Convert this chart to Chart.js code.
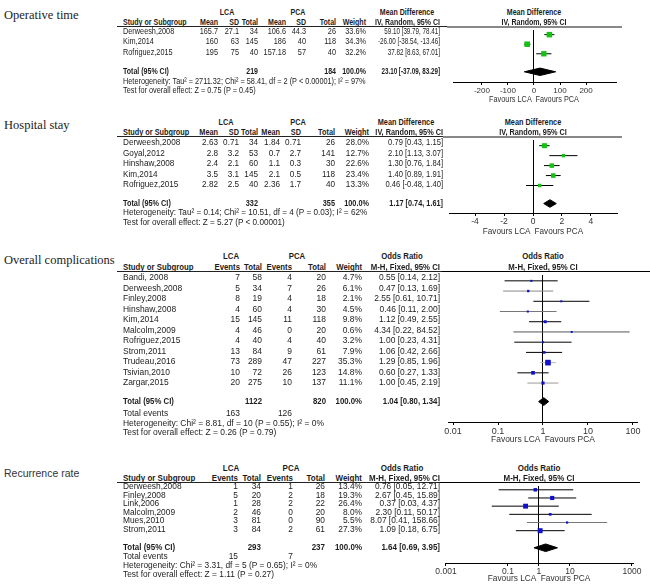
<!DOCTYPE html>
<html>
<head>
<meta charset="utf-8">
<script src="https://cdn.jsdelivr.net/npm/chart.js@4.4.1/dist/chart.umd.min.js"></script>
<style>
html, body { margin: 0; padding: 0; background: #fff; }
#page { position: relative; width: 650px; height: 587px; overflow: hidden; }
.anchor { position: absolute; width: 0; height: 0; transform-origin: 0 0; }
.txt { position: absolute; top: -6px; line-height: 12px; white-space: pre; font-family: 'Liberation Sans', Arial, sans-serif; font-size: 9.5px; color: #1c1c1c; }
.txt.l { left: 0; }
.txt.r { right: 0; }
.txt.c { left: 0; transform: translateX(-50%); }
.txt.b { font-weight: bold; }
.txt.serif { font-family: 'Liberation Serif', 'Times New Roman', serif; font-size: 12.5px; top: -8px; line-height: 16px; }
.txt.sans { font-size: 10.5px; top: -7px; line-height: 14px; color: #333; }
.txt.fav { color: #333; }
.rule { position: absolute; height: 0; }
canvas { position: absolute; }
</style>
</head>
<body>
<div id="page"></div>
<script>
// Operative time - mean difference, IV random
var opStudies = ['Derweesh,2008', 'Kim,2014', 'Rofriguez,2015'];
var opLcaMean = [165.7, 160, 195];
var opLcaSd = [27.1, 63, 75];
var opLcaN = [34, 145, 40];
var opPcaMean = [106.6, 186, 157.18];
var opPcaSd = [44.3, 40, 57];
var opPcaN = [26, 118, 40];
var opWeight = [33.6, 34.3, 32.2];
var opEst = [59.10, -26.00, 37.82];
var opLo = [39.79, -38.54, 8.63];
var opHi = [78.41, -13.46, 67.01];
var opTotalN = [219, 184];
var opTotal = [23.10, -37.09, 83.29];
var opTicks = [-200, -100, 0, 100, 200];
var opHet = 'Heterogeneity: Tau² = 2711.32; Chi² = 58.41, df = 2 (P < 0.00001); I² = 97%';
var opTest = 'Test for overall effect: Z = 0.75 (P = 0.45)';

// Hospital stay - mean difference, IV random
var hsStudies = ['Derweesh,2008', 'Goyal,2012', 'Hinshaw,2008', 'Kim,2014', 'Rofriguez,2015'];
var hsLcaMean = [2.63, 2.8, 2.4, 3.5, 2.82];
var hsLcaSd = [0.71, 3.2, 2.1, 3.1, 2.5];
var hsLcaN = [34, 53, 60, 145, 40];
var hsPcaMean = [1.84, 0.7, 1.1, 2.1, 2.36];
var hsPcaSd = [0.71, 2.7, 0.3, 0.5, 1.7];
var hsPcaN = [26, 141, 30, 118, 40];
var hsWeight = [28.0, 12.7, 22.6, 23.4, 13.3];
var hsEst = [0.79, 2.10, 1.30, 1.40, 0.46];
var hsLo = [0.43, 1.13, 0.76, 0.89, -0.48];
var hsHi = [1.15, 3.07, 1.84, 1.91, 1.40];
var hsTotalN = [332, 355];
var hsTotal = [1.17, 0.74, 1.61];
var hsTicks = [-4, -2, 0, 2, 4];
var hsHet = 'Heterogeneity: Tau² = 0.14; Chi² = 10.51, df = 4 (P = 0.03); I² = 62%';
var hsTest = 'Test for overall effect: Z = 5.27 (P < 0.00001)';

// Overall complications - odds ratio, M-H fixed
var ocStudies = ['Bandi, 2008', 'Derweesh,2008', 'Finley,2008', 'Hinshaw,2008', 'Kim,2014', 'Malcolm,2009',
    'Rofriguez,2015', 'Strom,2011', 'Trudeau,2016', 'Tsivian,2010', 'Zargar,2015'];
var ocLcaEvents = [7, 5, 8, 4, 15, 4, 4, 13, 73, 10, 20];
var ocLcaN = [58, 34, 19, 60, 145, 46, 40, 84, 289, 72, 275];
var ocPcaEvents = [4, 7, 4, 4, 11, 0, 4, 9, 47, 26, 10];
var ocPcaN = [20, 26, 18, 30, 118, 20, 40, 61, 227, 123, 137];
var ocWeight = [4.7, 6.1, 2.1, 4.5, 9.8, 0.6, 3.2, 7.9, 35.3, 14.8, 11.1];
var ocEst = [0.55, 0.47, 2.55, 0.46, 1.12, 4.34, 1.00, 1.06, 1.29, 0.60, 1.00];
var ocLo = [0.14, 0.13, 0.61, 0.11, 0.49, 0.22, 0.23, 0.42, 0.85, 0.27, 0.45];
var ocHi = [2.12, 1.69, 10.71, 2.00, 2.55, 84.52, 4.31, 2.66, 1.96, 1.33, 2.19];
var ocTotalN = [1122, 820];
var ocTotalEvents = [163, 126];
var ocTotal = [1.04, 0.80, 1.34];
var ocTicks = [0.01, 0.1, 1, 10, 100];
var ocHet = 'Heterogeneity: Chi² = 8.81, df = 10 (P = 0.55); I² = 0%';
var ocTest = 'Test for overall effect: Z = 0.26 (P = 0.79)';

// Recurrence rate - odds ratio, M-H fixed
var rrStudies = ['Derweesh,2008', 'Finley,2008', 'Link,2006', 'Malcolm,2009', 'Mues,2010', 'Strom,2011'];
var rrLcaEvents = [1, 5, 1, 2, 3, 3];
var rrLcaN = [34, 20, 28, 46, 81, 84];
var rrPcaEvents = [1, 2, 2, 0, 0, 2];
var rrPcaN = [26, 18, 22, 20, 90, 61];
var rrWeight = [13.4, 19.3, 26.4, 8.0, 5.5, 27.3];
var rrEst = [0.76, 2.67, 0.37, 2.30, 8.07, 1.09];
var rrLo = [0.05, 0.45, 0.03, 0.11, 0.41, 0.18];
var rrHi = [12.71, 15.89, 4.37, 50.17, 158.66, 6.75];
var rrTotalN = [293, 237];
var rrTotalEvents = [15, 7];
var rrTotal = [1.64, 0.69, 3.95];
var rrTicks = [0.001, 0.1, 1, 10, 1000];
var rrHet = 'Heterogeneity: Chi² = 3.31, df = 5 (P = 0.65); I² = 0%';
var rrTest = 'Test for overall effect: Z = 1.11 (P = 0.27)';

var GREEN = '#14c214';
var BLUE = '#1010cc';

var page = document.getElementById('page');

function put(text, x, y, align, o) {
    o = o || {};
    var a = document.createElement('div');
    a.className = 'anchor';
    a.style.left = x + 'px';
    a.style.top = y + 'px';
    if (o.sx && o.sx !== 1) {
        a.style.transform = 'scaleX(' + o.sx + ')';
    }
    var s = document.createElement('span');
    s.className = 'txt ' + align + (o.bold ? ' b' : '') + (o.cls ? ' ' + o.cls : '');
    s.textContent = text;
    a.appendChild(s);
    page.appendChild(a);
}

function rule(x1, x2, y, color, w) {
    var d = document.createElement('div');
    d.className = 'rule';
    d.style.left = x1 + 'px';
    d.style.width = (x2 - x1) + 'px';
    d.style.top = y + 'px';
    d.style.borderTop = w + 'px solid ' + color;
    page.appendChild(d);
}

function fmtCi(est, lo, hi) {
    return est.toFixed(2) + ' [' + lo.toFixed(2) + ', ' + hi.toFixed(2) + ']';
}

var panels = [
    {
        title: 'Operative time', titleY: 15, titleCls: 'serif',
        studies: opStudies, cols: [opLcaMean, opLcaSd, opLcaN, opPcaMean, opPcaSd, opPcaN],
        colNames: ['Mean', 'SD', 'Total', 'Mean', 'SD', 'Total'], nCols: [2, 5], evCols: null,
        weight: opWeight, est: opEst, lo: opLo, hi: opHi, totalN: opTotalN, total: opTotal,
        totalEvents: null, het: opHet, test: opTest, ticks: opTicks,
        effName: 'Mean Difference', method: 'IV, Random, 95% CI', log: false, zero: 0,
        min: -311, max: 315, markCol: GREEN, ciCol: null,
        // layout
        sx: 0.77, hsx: 0.74, ciSx: 0.66, tickSize: 8, colX: [218, 239, 258, 286, 306, 336], weightX: 366, ciX: 440,
        lcaX: 227, pcaX: 298, effX: 407,
        yHead1: 12, yHead2: 22, yLine: 26, row0: 31, step: 10.3, yTotal: 71, yEvents: null,
        yHet: 81, yTest: 90, yFav: 99, axLeft: 453, axRight: 616, axY: 82, lineEnd: 622,
        plotLine: '#888', plotLineW: 2
    },
    {
        title: 'Hospital stay', titleY: 125, titleCls: 'serif',
        studies: hsStudies, cols: [hsLcaMean, hsLcaSd, hsLcaN, hsPcaMean, hsPcaSd, hsPcaN],
        colNames: ['Mean', 'SD', 'Total', 'Mean', 'SD', 'Total'], nCols: [2, 5], evCols: null,
        weight: hsWeight, est: hsEst, lo: hsLo, hi: hsHi, totalN: hsTotalN, total: hsTotal,
        totalEvents: null, het: hsHet, test: hsTest, ticks: hsTicks,
        effName: 'Mean Difference', method: 'IV, Random, 95% CI', log: false, zero: 0,
        min: -5.8, max: 5.8, markCol: GREEN, ciCol: null,
        sx: 0.86, hsx: 0.77, ciSx: 0.8, tickSize: 8.5, colX: [218, 239, 258, 280, 301, 335], weightX: 369, ciX: 443,
        lcaX: 226, pcaX: 298, effX: 406,
        yHead1: 122, yHead2: 132, yLine: 136, row0: 142, step: 10.5, yTotal: 203, yEvents: null,
        yHet: 212, yTest: 222, yFav: 231, axLeft: 449, axRight: 617, axY: 213, lineEnd: 622,
        plotLine: '#888', plotLineW: 2
    },
    {
        title: 'Overall complications', titleY: 260, titleCls: 'serif',
        studies: ocStudies, cols: [ocLcaEvents, ocLcaN, ocPcaEvents, ocPcaN],
        colNames: ['Events', 'Total', 'Events', 'Total'], nCols: [1, 3], evCols: [0, 2],
        weight: ocWeight, est: ocEst, lo: ocLo, hi: ocHi, totalN: ocTotalN, total: ocTotal,
        totalEvents: ocTotalEvents, het: ocHet, test: ocTest, ticks: ocTicks,
        effName: 'Odds Ratio', method: 'M-H, Fixed, 95% CI', log: true, zero: 1,
        min: 0.00774, max: 122.8, markCol: BLUE,
        ciCol: ['#000', '#888', '#000', '#777', '#000', '#555', '#000', '#000', '#bbb', '#000', '#999'],
        sx: 0.89, hsx: 0.82, ciSx: 0.89, tickSize: 9, colX: [240, 262, 292, 326], weightX: 362, ciX: 440,
        lcaX: 231, pcaX: 297, effX: 402,
        yHead1: 256, yHead2: 267, yLine: 271, row0: 277, step: 10.5, yTotal: 401, yEvents: 413,
        yHet: 423, yTest: 432, yFav: 439, axLeft: 448, axRight: 637, axY: 422, lineEnd: 650,
        plotLine: '#000', plotLineW: 1
    },
    {
        title: 'Recurrence rate', titleY: 473, titleCls: 'sans',
        studies: rrStudies, cols: [rrLcaEvents, rrLcaN, rrPcaEvents, rrPcaN],
        colNames: ['Events', 'Total', 'Events', 'Total'], nCols: [1, 3], evCols: [0, 2],
        weight: rrWeight, est: rrEst, lo: rrLo, hi: rrHi, totalN: rrTotalN, total: rrTotal,
        totalEvents: rrTotalEvents, het: rrHet, test: rrTest, ticks: rrTicks,
        effName: 'Odds Ratio', method: 'M-H, Fixed, 95% CI', log: true, zero: 1,
        min: 0.00093, max: 1080, markCol: BLUE,
        ciCol: ['#000', '#000', '#000', '#000', '#777', '#000'],
        sx: 0.88, hsx: 0.84, ciSx: 0.88, tickSize: 8.5, colX: [238, 261, 293, 325], weightX: 362, ciX: 440,
        lcaX: 231, pcaX: 291, effX: 402,
        yHead1: 468, yHead2: 478, yLine: 482, row0: 486, step: 8.6, yTotal: 547, yEvents: 556,
        yHet: 565, yTest: 574, yFav: 578, axLeft: 445, axRight: 633, axY: 563, lineEnd: 640,
        plotLine: '#000', plotLineW: 1
    }
];

function drawPlot(p) {
    var pad = 18, axisH = 16;
    var w = p.axRight - p.axLeft + 2 * pad;
    var h = p.axY - p.yLine + axisH;
    var cv = document.createElement('canvas');
    cv.width = w;
    cv.height = h;
    cv.style.left = (p.axLeft - pad) + 'px';
    cv.style.top = p.yLine + 'px';
    page.appendChild(cv);

    var tRow = (p.yTotal - p.row0) / p.step;
    var dh = 4 / p.step; // half height of the diamond, in rows
    var sets = [];
    sets.push({
        order: 0,
        data: p.est.map(function (v, i) { return {x: v, y: i}; }),
        pointStyle: 'rect',
        pointRadius: p.weight.map(function (wt) { return Math.max(2, 0.95 * Math.sqrt(wt)) / Math.SQRT2; }),
        backgroundColor: p.markCol,
        borderWidth: 0
    });
    sets.push({
        order: 1,
        data: [
            {x: p.total[1], y: tRow}, {x: p.total[0], y: tRow - dh},
            {x: p.total[2], y: tRow}, {x: p.total[0], y: tRow + dh},
            {x: p.total[1], y: tRow}
        ],
        showLine: true,
        fill: 'shape',
        borderColor: '#000',
        backgroundColor: '#000',
        borderWidth: 1,
        pointRadius: 0
    });
    for (var i = 0; i < p.studies.length; i++) {
        sets.push({
            order: 2,
            data: [{x: p.lo[i], y: i}, {x: p.hi[i], y: i}],
            showLine: true,
            borderColor: p.ciCol ? p.ciCol[i] : '#000',
            borderWidth: 1,
            pointRadius: 0
        });
    }

    var chart = new Chart(cv, {
        type: 'scatter',
        data: {datasets: sets},
        options: {
            responsive: false,
            animation: false,
            events: [],
            layout: {padding: {left: pad, right: pad, top: 0, bottom: 0}},
            plugins: {legend: {display: false}, tooltip: {enabled: false}},
            scales: {
                x: {
                    type: p.log ? 'logarithmic' : 'linear',
                    position: 'bottom',
                    bounds: 'data',
                    min: p.min,
                    max: p.max,
                    afterBuildTicks: function (s) {
                        s.ticks = p.ticks.map(function (v) { return {value: v}; });
                    },
                    afterFit: function (s) { s.height = axisH; },
                    ticks: {
                        autoSkip: false,
                        maxRotation: 0,
                        padding: 1,
                        color: '#333',
                        font: {family: "'Liberation Sans', Arial, sans-serif", size: p.tickSize},
                        callback: function (v) { return String(v); }
                    },
                    grid: {
                        drawOnChartArea: true,
                        color: function (c) {
                            return c.tick && c.tick.value === p.zero ? '#000' : 'rgba(0,0,0,0)';
                        },
                        tickColor: '#000',
                        tickLength: 3,
                        lineWidth: 1
                    },
                    border: {display: true, color: '#000', width: 1}
                },
                y: {
                    type: 'linear',
                    display: false,
                    reverse: true,
                    min: (p.yLine - p.row0) / p.step,
                    max: (p.axY - p.row0) / p.step
                }
            }
        }
    });
    return p.axLeft - pad + chart.scales.x.getPixelForValue(p.zero);
}

function renderPanel(p) {
    var sx = p.sx, hsx = p.hsx;
    var rowY = function (i) { return p.row0 + i * p.step; };
    put(p.title, 4, p.titleY, 'l', {cls: p.titleCls});

    var zeroX = drawPlot(p);

    // headings
    put('LCA', p.lcaX, p.yHead1, 'c', {sx: hsx, bold: true});
    put('PCA', p.pcaX, p.yHead1, 'c', {sx: hsx, bold: true});
    put(p.effName, p.effX, p.yHead1, 'c', {sx: hsx, bold: true});
    put(p.effName, zeroX, p.yHead1, 'c', {sx: hsx, bold: true});
    put('Study or Subgroup', 123, p.yHead2, 'l', {sx: hsx, bold: true});
    p.colNames.forEach(function (nm, k) {
        put(nm, p.colX[k], p.yHead2, 'r', {sx: hsx, bold: true});
    });
    put('Weight', p.weightX, p.yHead2, 'r', {sx: hsx, bold: true});
    put(p.method, p.ciX, p.yHead2, 'r', {sx: hsx, bold: true});
    put(p.method, zeroX, p.yHead2, 'c', {sx: hsx, bold: true});
    rule(117, p.axLeft - 6, p.yLine, '#222', 1);
    rule(p.axLeft - 6, p.lineEnd, p.yLine - (p.plotLineW > 1 ? 0.5 : 0), p.plotLine, p.plotLineW);

    // study rows
    for (var i = 0; i < p.studies.length; i++) {
        var y = rowY(i);
        put(p.studies[i], 123, y, 'l', {sx: sx});
        for (var k = 0; k < p.cols.length; k++) {
            put(String(p.cols[k][i]), p.colX[k], y, 'r', {sx: sx});
        }
        put(p.weight[i].toFixed(1) + '%', p.weightX, y, 'r', {sx: sx});
        put(fmtCi(p.est[i], p.lo[i], p.hi[i]), p.ciX, y, 'r', {sx: p.ciSx});
    }

    // pooled
    put('Total (95% CI)', 123, p.yTotal, 'l', {sx: hsx, bold: true});
    put(String(p.totalN[0]), p.colX[p.nCols[0]], p.yTotal, 'r', {sx: hsx, bold: true});
    put(String(p.totalN[1]), p.colX[p.nCols[1]], p.yTotal, 'r', {sx: hsx, bold: true});
    put('100.0%', p.weightX, p.yTotal, 'r', {sx: hsx, bold: true});
    put(fmtCi(p.total[0], p.total[1], p.total[2]), p.ciX, p.yTotal, 'r', {sx: Math.min(hsx, p.ciSx), bold: true});
    if (p.totalEvents) {
        put('Total events', 123, p.yEvents, 'l', {sx: sx});
        put(String(p.totalEvents[0]), p.colX[p.evCols[0]], p.yEvents, 'r', {sx: sx});
        put(String(p.totalEvents[1]), p.colX[p.evCols[1]], p.yEvents, 'r', {sx: sx});
    }
    put(p.het, 123, p.yHet, 'l', {sx: sx});
    put(p.test, 123, p.yTest, 'l', {sx: sx});

    put('Favours LCA  Favours PCA', zeroX, p.yFav, 'c', {sx: sx, cls: 'fav'});
}

panels.forEach(renderPanel);
</script>
</body>
</html>
